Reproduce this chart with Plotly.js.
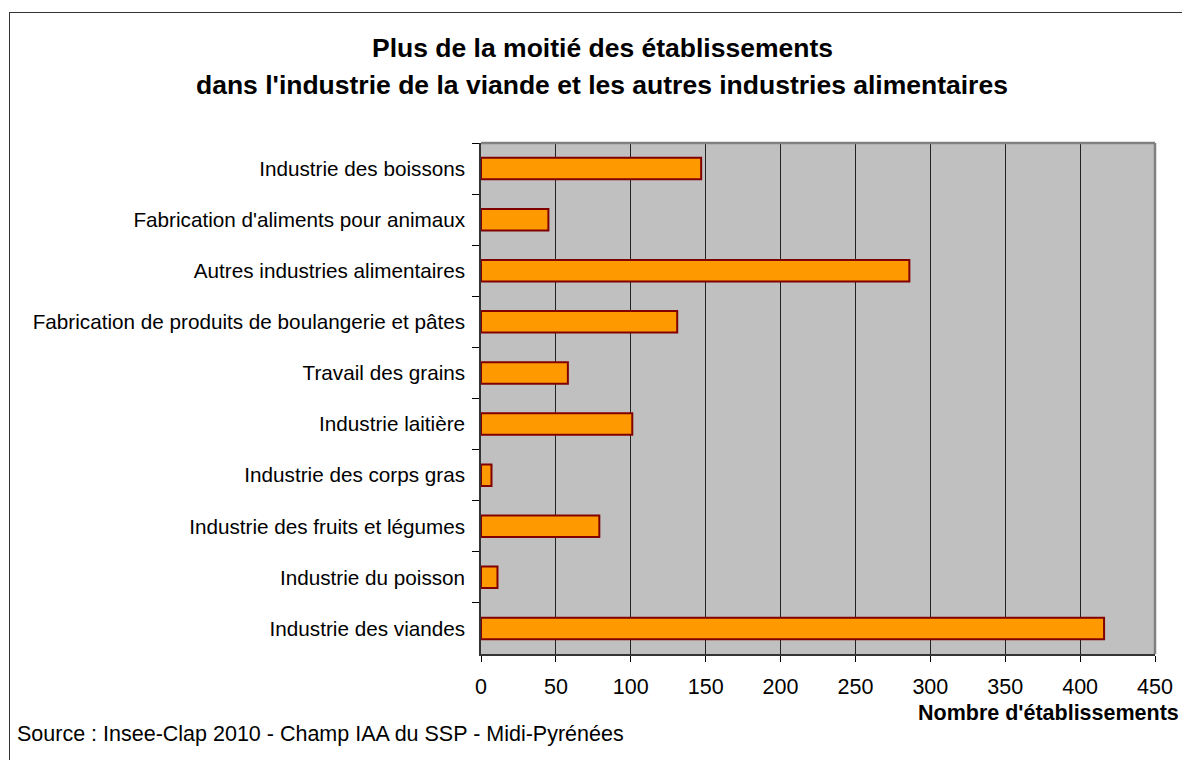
<!DOCTYPE html>
<html>
<head>
<meta charset="utf-8">
<script src="https://cdn.plot.ly/plotly-3.0.1.min.js"></script>
<style>
html, body { margin:0; padding:0; overflow:hidden; background:#fff; }
#chart { position:absolute; left:0; top:0; width:1182px; height:760px; }
#frame { position:absolute; left:9px; top:12px; width:1220px; height:800px; border:1.5px solid #333; pointer-events:none; }
</style>
</head>
<body>
<div id="chart"></div>
<div id="frame"></div>
<script>
const categories = [
  "Industrie des boissons",
  "Fabrication d'aliments pour animaux",
  "Autres industries alimentaires",
  "Fabrication de produits de boulangerie et pâtes",
  "Travail des grains",
  "Industrie laitière",
  "Industrie des corps gras",
  "Industrie des fruits et légumes",
  "Industrie du poisson",
  "Industrie des viandes"
];
const values = [147, 45, 286, 131, 58, 101, 7, 79, 11, 416];
const titleLines = [
  "Plus de la moitié des établissements",
  "dans l'industrie de la viande et les autres industries alimentaires"
];
const xTitle = "Nombre d'établissements";
const sourceText = "Source : Insee-Clap 2010 - Champ IAA du SSP - Midi-Pyrénées";

const FONT = "Liberation Sans, Arial, sans-serif";

const trace = {
  type: 'bar',
  orientation: 'h',
  x: values,
  y: categories,
  width: 0.42,
  marker: { color: '#FF9900', line: { color: '#800000', width: 2 } },
  hoverinfo: 'x+y'
};

const W = 1182, H = 760;
const layout = {
  width: W, height: H,
  margin: { l: 481, r: 27, t: 143, b: 106, pad: 0 },
  paper_bgcolor: 'rgba(0,0,0,0)',
  plot_bgcolor: '#C0C0C0',
  showlegend: false,
  font: { family: FONT, size: 21, color: '#000' },
  xaxis: {
    range: [0, 450],
    dtick: 50, tick0: 0,
    showgrid: true, gridcolor: '#222', gridwidth: 1,
    zeroline: false,
    showline: true, linecolor: '#333', linewidth: 1.5,
    ticks: 'outside', ticklen: 6, tickcolor: '#000', tickwidth: 1,
    ticklabelstandoff: 6,
    tickfont: { family: FONT, size: 21.5, color: '#000' },
    fixedrange: true
  },
  yaxis: {
    type: 'category',
    autorange: 'reversed',
    showgrid: false, zeroline: false,
    showline: true, linecolor: '#333', linewidth: 1.5,
    ticks: 'outside', ticklen: 7, tickcolor: '#000', tickwidth: 1,
    tickson: 'boundaries',
    ticklabelstandoff: 10,
    tickfont: { family: FONT, size: 20.7, color: '#000' },
    fixedrange: true
  },
  shapes: [
    { type: 'line', xref: 'paper', yref: 'paper', x0: 0, x1: 1, y0: 1, y1: 1, line: { color: '#808080', width: 2.5 } },
    { type: 'line', xref: 'paper', yref: 'paper', x0: 1, x1: 1, y0: 0, y1: 1, line: { color: '#808080', width: 2.5 } }
  ],
  annotations: [
    { text: '<b>' + titleLines[0] + '</b>', xref: 'paper', yref: 'paper',
      x: (602 - 481) / 674, y: 1 + (143 - 48) / 511, xanchor: 'center', yanchor: 'middle',
      showarrow: false, font: { family: FONT, size: 26.5, color: '#000' } },
    { text: '<b>' + titleLines[1] + '</b>', xref: 'paper', yref: 'paper',
      x: (602 - 481) / 674, y: 1 + (143 - 85) / 511, xanchor: 'center', yanchor: 'middle',
      showarrow: false, font: { family: FONT, size: 26.5, color: '#000' } },
    { text: '<b>' + xTitle + '</b>', xref: 'paper', yref: 'paper',
      x: (1181 - 481) / 674, y: -(713 - 654) / 511, xanchor: 'right', yanchor: 'middle',
      showarrow: false, font: { family: FONT, size: 21.5, color: '#000' } },
    { text: sourceText, xref: 'paper', yref: 'paper',
      x: (15 - 481) / 674, y: -(734 - 654) / 511, xanchor: 'left', yanchor: 'middle',
      showarrow: false, font: { family: FONT, size: 21.5, color: '#000' } }
  ]
};

Plotly.newPlot('chart', [trace], layout, { displayModeBar: false, responsive: false });
</script>
</body>
</html>
